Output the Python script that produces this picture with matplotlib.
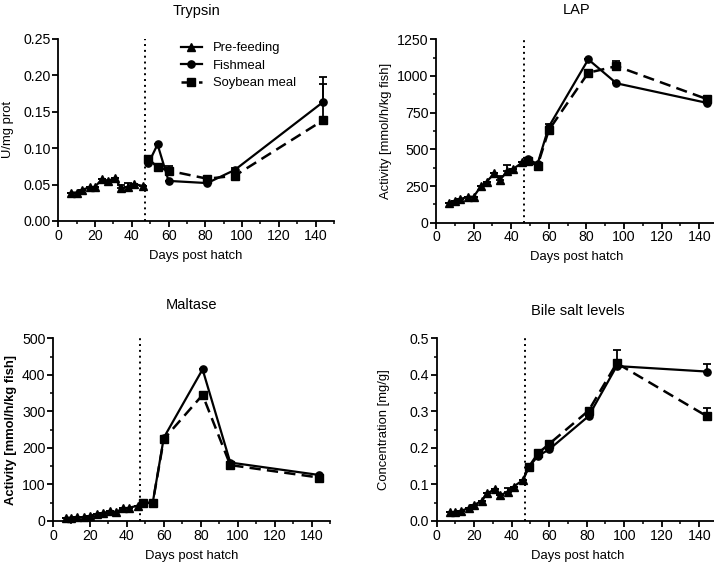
import matplotlib
matplotlib.use("Agg")
import matplotlib.pyplot as plt
from matplotlib.ticker import MultipleLocator
from matplotlib.lines import Line2D

plt.rcParams['font.family'] = ['Liberation Sans', 'DejaVu Sans']

# ---------------- data ----------------
days_pre = [7, 10, 13, 17, 20, 24, 27, 31, 34, 38, 41, 46]
days_fed = [49, 54, 60, 81, 96, 144]
feeding_day = 47

tryp_pre = [0.039, 0.039, 0.043, 0.046, 0.047, 0.058, 0.055, 0.059, 0.045, 0.047, 0.051, 0.048]
tryp_pre_err = [0, 0, 0, 0, 0, 0, 0, 0, 0.004, 0.005, 0, 0]
tryp_fish = [0.079, 0.105, 0.055, 0.052, 0.070, 0.163]
tryp_fish_err = [0, 0, 0, 0, 0.003, 0.035]
tryp_soy = [0.085, 0.074, 0.069, 0.058, 0.062, 0.138]
tryp_soy_err = [0, 0, 0.006, 0, 0.005, 0.050]

lap_pre = [136, 150, 161, 177, 177, 250, 280, 336, 291, 352, 366, 411]
lap_pre_err = [0, 0, 0, 0, 0, 0, 0, 0, 30, 43, 0, 0]
lap_fish = [432, 400, 654, 1113, 950, 817]
lap_fish_err = [0, 0, 20, 0, 10, 0]
lap_soy = [420, 389, 631, 1022, 1067, 843]
lap_soy_err = [0, 0, 0, 10, 35, 0]

malt_pre = [9, 9, 10, 10, 14, 20, 21, 28, 24, 35, 36, 42]
malt_pre_err = [0] * 12
malt_fish = [48, 50, 228, 415, 160, 126]
malt_fish_err = [0] * 6
malt_soy = [50, 50, 224, 345, 153, 119]
malt_soy_err = [0] * 6

bile_pre = [0.024, 0.025, 0.028, 0.035, 0.044, 0.055, 0.076, 0.087, 0.071, 0.080, 0.094, 0.112]
bile_pre_err = [0, 0, 0, 0, 0, 0, 0, 0, 0, 0.010, 0, 0]
bile_fish = [0.147, 0.178, 0.196, 0.287, 0.424, 0.409]
bile_fish_err = [0, 0, 0, 0, 0, 0.020]
bile_soy = [0.147, 0.185, 0.211, 0.302, 0.432, 0.287]
bile_soy_err = [0, 0, 0, 0, 0.036, 0.023]

titles = ["Trypsin", "LAP", "Maltase", "Bile salt levels"]
ylabels = ["U/mg prot", "Activity [mmol/h/kg fish]", "Activity [mmol/h/kg fish]", "Concentration [mg/g]"]
xlabel = "Days post hatch"
legend_labels = ["Pre-feeding", "Fishmeal", "Soybean meal"]

# ---------------- figure ----------------
W, H = 714, 564
fig = plt.figure(figsize=(W / 100, H / 100), dpi=100)

def rect(left, right, top, bottom):
    return [left / W, 1 - bottom / H, (right - left) / W, (bottom - top) / H]

panels = [
    dict(rect=rect(58.3, 334, 38.7, 221), pre=(tryp_pre, tryp_pre_err), fish=(tryp_fish, tryp_fish_err),
         soy=(tryp_soy, tryp_soy_err), ylim=(0, 0.25), major=0.05, minor=None, fmt="{:.2f}", connect=False,
         ylab_bold=False, legend=True, tpad=17),
    dict(rect=rect(436, 718, 39.3, 222.7), pre=(lap_pre, lap_pre_err), fish=(lap_fish, lap_fish_err),
         soy=(lap_soy, lap_soy_err), ylim=(0, 1250), major=250, minor=125, fmt="{:.0f}", connect=True,
         ylab_bold=False, legend=False, tpad=18),
    dict(rect=rect(53, 330, 338.3, 521), pre=(malt_pre, malt_pre_err), fish=(malt_fish, malt_fish_err),
         soy=(malt_soy, malt_soy_err), ylim=(0, 500), major=100, minor=50, fmt="{:.0f}", connect=True,
         ylab_bold=True, legend=False, tpad=21),
    dict(rect=rect(436.7, 718, 338.3, 521), pre=(bile_pre, bile_pre_err), fish=(bile_fish, bile_fish_err),
         soy=(bile_soy, bile_soy_err), ylim=(0, 0.5), major=0.1, minor=0.05, fmt="{:.1f}", connect=True,
         ylab_bold=False, legend=False, tpad=17),
]

ylab_x = [14, 392, 17, 390]
dash = (0, (4.5, 2.5))
ms = 5.2

for i, p in enumerate(panels):
    ax = fig.add_axes(p["rect"])
    ax.set_xlim(0, 150)
    ax.set_ylim(*p["ylim"])
    for s in ["top", "right"]:
        ax.spines[s].set_visible(False)
    for s in ["left", "bottom"]:
        ax.spines[s].set_linewidth(1.3)
        ax.spines[s].set_clip_on(False)

    pre, pre_e = p["pre"]
    fish, fish_e = p["fish"]
    soy, soy_e = p["soy"]

    # connecting segments from last pre-feeding point
    if p["connect"]:
        ax.plot([days_pre[-1], days_fed[0]], [pre[-1], fish[0]], color="black", lw=1.6, zorder=2)
        ax.plot([days_pre[-1], days_fed[0]], [pre[-1], soy[0]], color="black", lw=1.6, ls=dash, zorder=2)

    ax.errorbar(days_pre, pre, yerr=[[0] * len(pre), pre_e], color="black", marker="^", ms=ms + 0.6,
                lw=1.6, capsize=2.6, elinewidth=1.3, capthick=1.3, zorder=3, clip_on=False)
    ax.errorbar(days_fed, soy, yerr=[[0] * len(soy), soy_e], color="black", marker="s", ms=ms,
                lw=1.8, ls=dash, capsize=2.6, elinewidth=1.3, capthick=1.3, zorder=3, clip_on=False)
    ax.errorbar(days_fed, fish, yerr=[[0] * len(fish), fish_e], color="black", marker="o", ms=ms,
                lw=1.6, capsize=2.6, elinewidth=1.3, capthick=1.3, zorder=4, clip_on=False)

    ax.axvline(feeding_day, color="black", ls=(0, (1, 2)), lw=1.4, zorder=1)

    ax.xaxis.set_major_locator(MultipleLocator(20))
    ax.xaxis.set_minor_locator(MultipleLocator(10))
    ax.yaxis.set_major_locator(MultipleLocator(p["major"]))
    if p["minor"]:
        ax.yaxis.set_minor_locator(MultipleLocator(p["minor"]))
    ax.yaxis.set_major_formatter(matplotlib.ticker.FuncFormatter(lambda v, pos, f=p["fmt"]: f.format(v)))
    ax.tick_params(which="major", length=4, width=1.3, labelsize=10.2, pad=1.5, colors="black")
    ax.tick_params(which="minor", length=2.5, width=1.1)

    ax.set_title(titles[i], fontsize=10.5, pad=p["tpad"])
    ax.set_xlabel(xlabel, fontsize=9.4, labelpad=5)
    ax.set_ylabel(ylabels[i], fontsize=9.4, fontweight="bold" if p["ylab_bold"] else "normal")
    ax.yaxis.set_label_coords((ylab_x[i] - p["rect"][0] * W) / (p["rect"][2] * W), 0.5)

    if p["legend"]:
        handles = [
            Line2D([], [], color="black", marker="^", ms=ms + 0.6, lw=1.6),
            Line2D([], [], color="black", marker="o", ms=ms, lw=1.6),
            Line2D([], [], color="black", marker="s", ms=ms, lw=1.8, ls=dash),
        ]
        ax.legend(handles, legend_labels, loc="upper left", bbox_to_anchor=(0.425, 1.01), frameon=False,
                  fontsize=9.4, handlelength=1.6, handletextpad=0.9, labelspacing=0.42, borderaxespad=0)

fig.savefig("out.png", dpi=100)
